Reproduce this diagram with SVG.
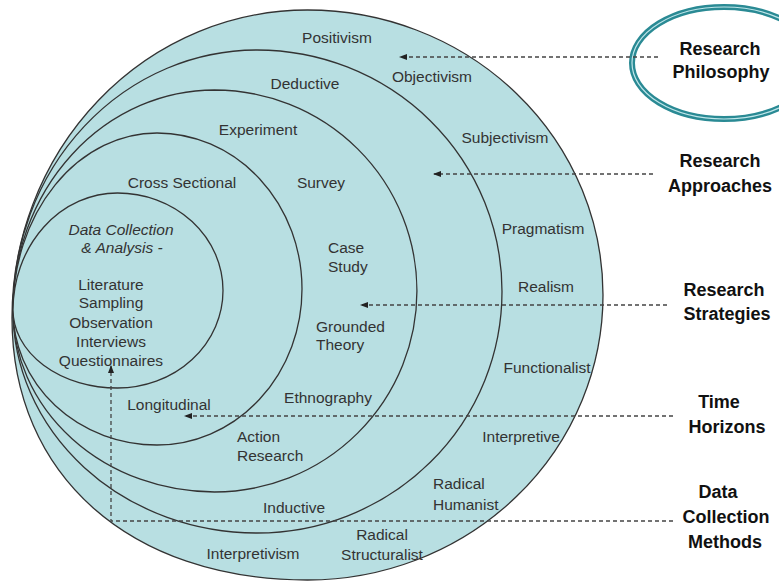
<svg xmlns="http://www.w3.org/2000/svg" width="779" height="582" viewBox="0 0 779 582">
<defs>
<marker id="ah" markerWidth="8" markerHeight="6" refX="7" refY="3" orient="auto" markerUnits="userSpaceOnUse">
<path d="M0,0 L8,3 L0,6 Z" fill="#222"/>
</marker>
<style>
.ring{fill:#b8dfe2;stroke:#333;stroke-width:1.3}
.lbl{font-family:"Liberation Sans",Arial,sans-serif;font-size:15.5px;fill:#333}
.ital{font-style:italic}
.side{font-family:"Liberation Sans",Arial,sans-serif;font-size:18px;font-weight:bold;fill:#111;text-anchor:middle}
.c{text-anchor:middle}
.dash{fill:none;stroke:#444;stroke-width:1.3;stroke-dasharray:4 3;marker-end:url(#ah)}
</style>
</defs>
<rect width="779" height="582" fill="#fff"/>
<g id="philosophy">
<path class="ring" d="M307.5,10 A295.5,285 0 0 1 307.5,580 C130.2,580 12,475.2 12,318 A295.5,308 0 0 1 307.5,10 Z"/>
<text class="lbl c" x="337" y="43">Positivism</text>
<text class="lbl c" x="432" y="82">Objectivism</text>
<text class="lbl c" x="505" y="143">Subjectivism</text>
<text class="lbl c" x="543" y="234">Pragmatism</text>
<text class="lbl c" x="546" y="292">Realism</text>
<text class="lbl c" x="547" y="373">Functionalist</text>
<text class="lbl c" x="521" y="442">Interpretive</text>
<text class="lbl" x="433" y="489">Radical</text>
<text class="lbl" x="433" y="510">Humanist</text>
<text class="lbl c" x="382" y="540">Radical</text>
<text class="lbl c" x="382" y="560">Structuralist</text>
<text class="lbl c" x="253" y="559">Interpretivism</text>
</g>
<g id="approaches">
<path class="ring" d="M257,50 A245,241.5 0 0 1 257,533 A244,223 0 0 1 13,310 A244,260 0 0 1 257,50 Z"/>
<text class="lbl c" x="305" y="89">Deductive</text>
<text class="lbl c" x="294" y="513">Inductive</text>
</g>
<g id="strategies">
<path class="ring" d="M214.5,90 A202.5,201 0 0 1 214.5,492 A201.5,182 0 0 1 13,310 A201.5,220 0 0 1 214.5,90 Z"/>
<text class="lbl c" x="258" y="135">Experiment</text>
<text class="lbl c" x="321" y="188">Survey</text>
<text class="lbl" x="328" y="253">Case</text>
<text class="lbl" x="328" y="272">Study</text>
<text class="lbl" x="316" y="332">Grounded</text>
<text class="lbl" x="316" y="350">Theory</text>
<text class="lbl c" x="328" y="403">Ethnography</text>
<text class="lbl" x="237" y="442">Action</text>
<text class="lbl" x="237" y="461">Research</text>
</g>
<g id="time-horizons">
<path class="ring" d="M157,133 A145,156 0 0 1 157,445 A144,135 0 0 1 13,310 A144,177 0 0 1 157,133 Z"/>
<text class="lbl c" x="182" y="188">Cross Sectional</text>
<text class="lbl c" x="169" y="410">Longitudinal</text>
</g>
<g id="data-collection">
<path class="ring" d="M117.5,193 A105.5,97.5 0 0 1 117.5,388 A104.5,78 0 0 1 13,310 A104.5,117 0 0 1 117.5,193 Z"/>
<text class="lbl c ital" x="121" y="235">Data Collection</text>
<text class="lbl c ital" x="122" y="253">&amp; Analysis -</text>
<text class="lbl c" x="111" y="290">Literature</text>
<text class="lbl c" x="111" y="308">Sampling</text>
<text class="lbl c" x="111" y="328">Observation</text>
<text class="lbl c" x="111" y="347">Interviews</text>
<text class="lbl c" x="111" y="366">Questionnaires</text>
</g>
<g id="research-philosophy-label">
<ellipse cx="724" cy="63" rx="92" ry="56" fill="none" stroke="#2a8a94" stroke-width="6"/>
<ellipse cx="724" cy="63" rx="92" ry="56" fill="none" stroke="#bfe6ea" stroke-width="1.2"/>
<text class="side" x="720" y="55">Research</text>
<text class="side" x="721" y="78">Philosophy</text>
</g>
<g id="research-approaches-label">
<text class="side" x="720" y="167">Research</text>
<text class="side" x="720" y="192">Approaches</text>
</g>
<g id="research-strategies-label">
<text class="side" x="724" y="296">Research</text>
<text class="side" x="727" y="320">Strategies</text>
</g>
<g id="time-horizons-label">
<text class="side" x="719" y="408">Time</text>
<text class="side" x="727" y="433">Horizons</text>
</g>
<g id="data-collection-label">
<text class="side" x="718" y="498">Data</text>
<text class="side" x="726" y="523">Collection</text>
<text class="side" x="725" y="548">Methods</text>
</g>
<g id="connectors">
<path class="dash" d="M658,57 L400,57"/>
<path class="dash" d="M653,174 L434,174"/>
<path class="dash" d="M667,305 L361,305"/>
<path class="dash" d="M673,416 L185,416"/>
<path class="dash" d="M673,521 L111,521 L111,366"/>
</g>
</svg>
